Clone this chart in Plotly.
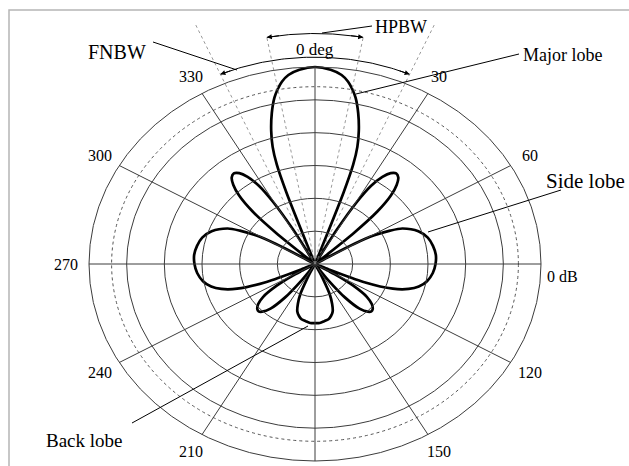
import numpy as np
import plotly.graph_objects as go

# ---- Radiation pattern (dB), half plane 0..180 deg; the pattern is symmetric about boresight
theta_half = [0, 4, 7, 9, 10.5, 12, 14, 16, 17.5, 18.5, 19.2, 19.6,
              24,
              28.6, 29, 30.5, 32, 34, 36, 38, 40, 42, 44, 46, 47.5, 48.2,
              53,
              59, 59.5, 61, 63, 65, 70, 75, 80, 85, 90, 95, 100, 104, 107, 110, 113, 114.5,
              117,
              120.5, 121, 123, 126, 129, 132, 134, 136, 139, 142, 144.5, 145.5,
              150,
              154, 155, 157, 159.5, 162, 165, 168, 172, 176, 180]
gain_half_db = [0, -0.35, -1.0, -1.9, -2.9, -4.1, -6.3, -8.9, -11.3, -14.0, -18.5, -28,
                -40,
                -28, -24, -19, -16, -14, -12.9, -12.5, -12.8, -13.8, -15.5, -18.5, -23, -28,
                -40,
                -28, -24, -21, -18.8, -17.2, -15.4, -14.5, -14.1, -13.9, -14.0, -14.3, -14.9,
                -15.8, -17, -19, -23, -28,
                -40,
                -28, -26.5, -24, -21.5, -20.3, -19.7, -19.6, -19.9, -21, -23.5, -27, -28.5,
                -40,
                -28.5, -27.5, -25, -23.5, -22.4, -21.8, -21.4, -21.2, -21.0, -21.0]

# ---- Grid and labels
db_floor = -30.0
ring_db = [-25, -20, -15, -10, -5, 0]
half_power_ring_db = -3
spoke_deg = [0, 30, 60, 90, 120, 150, 180, 210, 240, 270, 300, 330]
angle_label_deg = [30, 60, 120, 150, 210, 240, 270, 300, 330]
angle_label_txt = ["30", "60", "120", "150", "210", "240", "270", "300", "330"]
hpbw_deg = 10.5
fnbw_deg = 23.5

# ---- Canvas geometry (pixels)
W, H = 629, 466
CX, CY = 315, 264      # pattern centre
RX, RY = 226, 197      # 0 dB ring half-axes

SERIF = "Liberation Serif, Times New Roman, serif"
GRID = "#3c3c3c"


def db_to_r(db):
    return np.clip((np.asarray(db, float) - db_floor) / (-db_floor), 0, None)


def pol(r, deg):
    t = np.radians(deg)
    return r * np.sin(t), r * np.cos(t)


def px(xp, yp):
    return (xp - CX) / RX, (CY - yp) / RY


theta = np.array([-t for t in reversed(theta_half[1:])] + theta_half)
gain = np.array(list(reversed(gain_half_db[1:])) + gain_half_db)
r = db_to_r(gain)
px_, py_ = pol(r, theta)

fig = go.Figure()

shapes = []
# elliptical rings
for d in ring_db:
    rr = float(db_to_r(d))
    shapes.append(dict(type="circle", xref="x", yref="y", x0=-rr, x1=rr, y0=-rr, y1=rr,
                       line=dict(color=GRID, width=1)))
rr = float(db_to_r(half_power_ring_db))
shapes.append(dict(type="circle", xref="x", yref="y", x0=-rr, x1=rr, y0=-rr, y1=rr,
                   line=dict(color="#555", width=1, dash="dot")))
# spokes
for a in spoke_deg:
    ex, ey = pol(1.0, a)
    shapes.append(dict(type="line", xref="x", yref="y", x0=0, y0=0, x1=ex, y1=ey,
                       line=dict(color=GRID, width=1)))
# beamwidth guide lines
for a, rl in [(hpbw_deg, 1.18), (-hpbw_deg, 1.18), (fnbw_deg, 1.33), (-fnbw_deg, 1.33)]:
    ex, ey = pol(rl, a)
    shapes.append(dict(type="line", xref="x", yref="y", x0=0, y0=0, x1=ex, y1=ey,
                       line=dict(color="#808080", width=0.8, dash="dot")))
# callout leaders
for (a, b) in [((153, 42), (237, 70)), ((372, 26), (322, 33)), ((519, 54), (356, 94)),
               ((561, 190), (428, 232)), ((132, 423), (308, 326))]:
    x0, y0 = px(*a)
    x1, y1 = px(*b)
    shapes.append(dict(type="line", xref="x", yref="y", x0=x0, y0=y0, x1=x1, y1=y1,
                       line=dict(color="black", width=1)))
# frame
shapes.append(dict(type="rect", xref="paper", yref="paper", x0=9 / W, x1=1.02,
                   y0=-0.02, y1=1 - 10 / H, line=dict(color="#b5b5b5", width=1.5)))

# beamwidth arcs
for half, rad in [(hpbw_deg, 1.17), (fnbw_deg, 1.05)]:
    arc_t = np.linspace(-half, half, 80)
    ax_, ay_ = pol(rad, arc_t)
    fig.add_trace(go.Scatter(x=ax_, y=ay_, mode="lines",
                             line=dict(color="black", width=1), hoverinfo="skip"))

# radiation pattern
fig.add_trace(go.Scatter(x=px_, y=py_, mode="lines",
                         line=dict(color="black", width=2.7, shape="spline", smoothing=0.8),
                         hoverinfo="skip"))

annotations = []
# arrowheads on beamwidth arcs
for half, rad in [(hpbw_deg, 1.17), (fnbw_deg, 1.05)]:
    for s in (-1, 1):
        hx, hy = pol(rad, s * half)
        tx, ty = pol(rad, s * (half - 3))
        annotations.append(dict(x=hx, y=hy, ax=tx, ay=ty, xref="x", yref="y",
                                axref="x", ayref="y", text="", showarrow=True,
                                arrowhead=2, arrowsize=1, arrowwidth=1, arrowcolor="black",
                                standoff=0))
# angle labels
for a, t in zip(angle_label_deg, angle_label_txt):
    lx, ly = pol(1.1, a)
    annotations.append(dict(x=lx, y=ly, xref="x", yref="y", text=t, showarrow=False,
                            font=dict(family=SERIF, size=16, color="black")))


def label(xp, yp, text, size):
    x, y = px(xp, yp)
    annotations.append(dict(x=x, y=y, xref="x", yref="y", text=text, showarrow=False,
                            font=dict(family=SERIF, size=size, color="black")))


label(315, 49, "0 deg", 17)
label(562, 276, "0 dB", 16)
label(117, 52, "FNBW", 20)
label(401, 27, "HPBW", 18)
label(562, 55, "Major lobe", 18)
label(585, 181, "Side lobe", 21)
label(84, 440, "Back lobe", 19)

x_lo, _ = px(0, 0)
x_hi, _ = px(W, 0)
_, y_hi = px(0, 0)
_, y_lo = px(0, H)

fig.update_layout(
    width=W, height=H, margin=dict(l=0, r=0, t=0, b=0),
    paper_bgcolor="white", plot_bgcolor="white", showlegend=False,
    xaxis=dict(range=[x_lo, x_hi], visible=False, fixedrange=True),
    yaxis=dict(range=[y_lo, y_hi], visible=False, fixedrange=True),
    shapes=shapes, annotations=annotations,
)

fig.write_html("out.html")
